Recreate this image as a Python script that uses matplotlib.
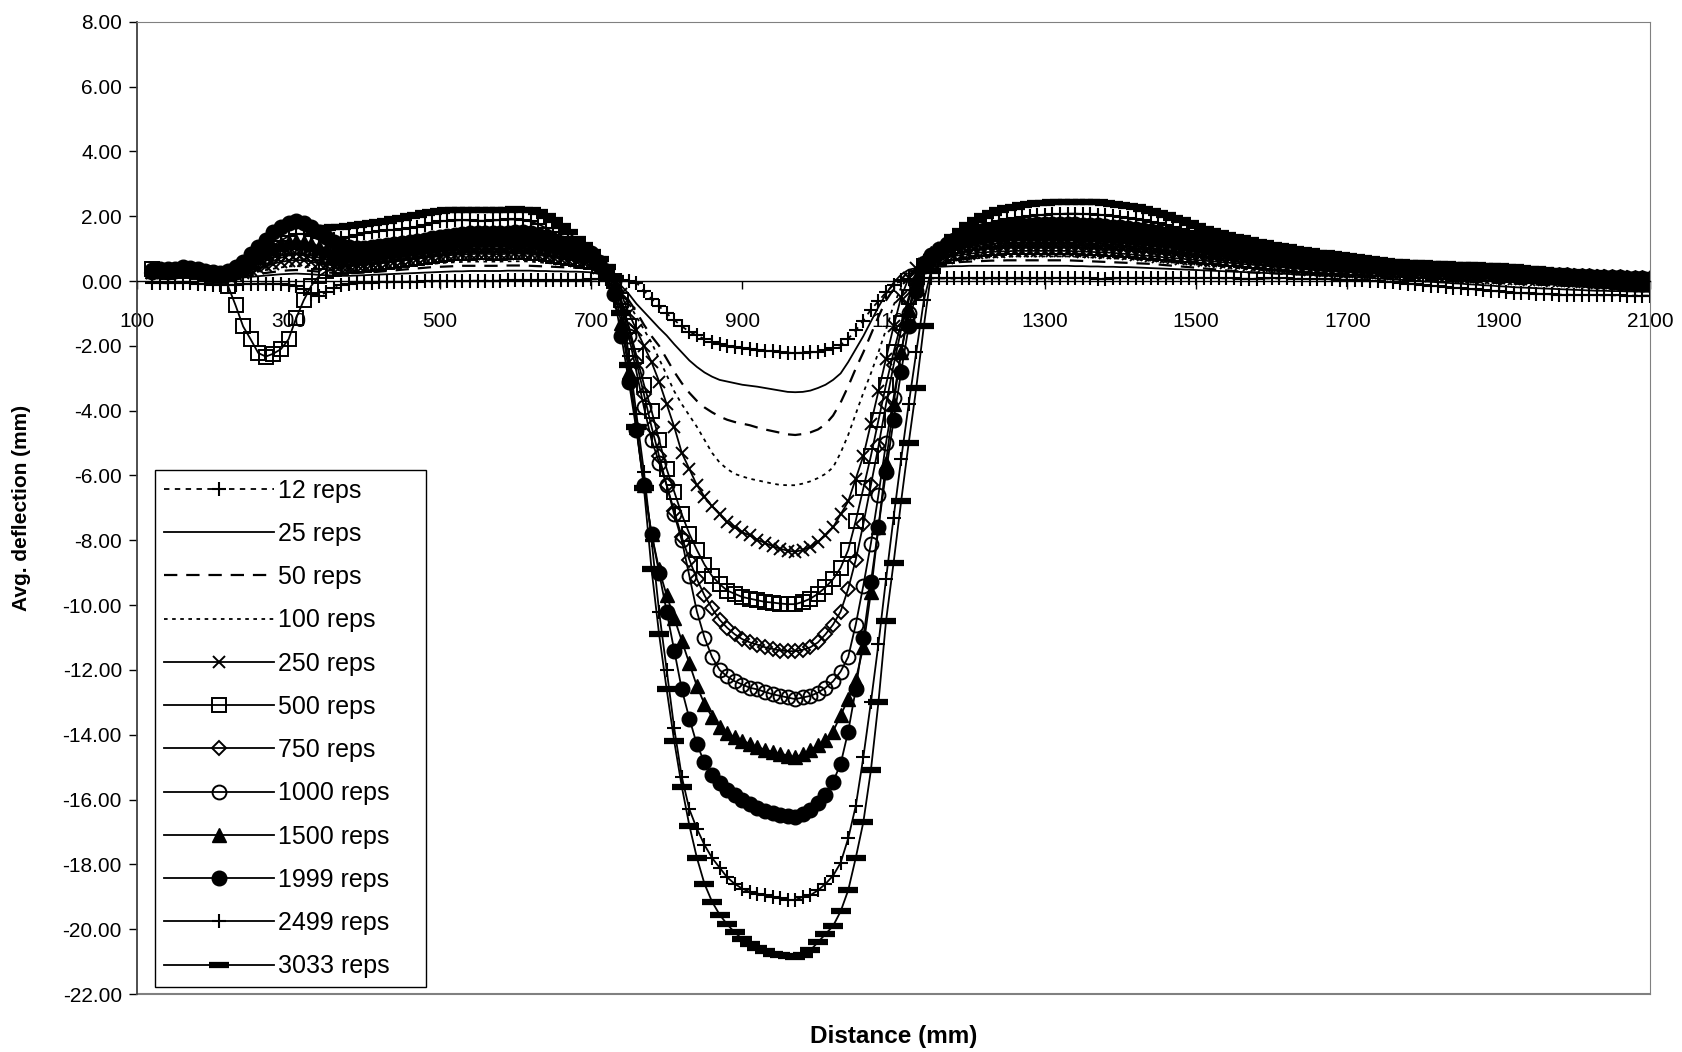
import numpy as np
import matplotlib
matplotlib.use("Agg")
import matplotlib.pyplot as plt
from matplotlib.ticker import FormatStrFormatter

plt.rcParams["font.family"] = ["Liberation Sans", "DejaVu Sans"]

nan = np.nan

# distance along the section (mm), one reading every 10 mm from 120 to 2100
distance = np.arange(120, 2101, 10)

# average deflection (mm), one row = 10 readings (120-210, 220-310, ...)
reps_12 = [
    -0.05, -0.06, -0.07, -0.06, -0.05, -0.06, -0.08, -0.1, -0.11, -0.12,
    -0.12, -0.11, -0.1, -0.09, -0.08, -0.08, -0.09, -0.1, -0.12, -0.16,
    -0.25, -0.4, -0.45, -0.35, -0.22, -0.12, -0.08, -0.06, -0.05, -0.05,
    -0.04, -0.04, -0.03, -0.03, -0.02, -0.02, -0.01, -0.01, 0.0, 0.0,
    0.0, 0.0, 0.01, 0.01, 0.01, 0.01, 0.01, 0.02, 0.02, 0.02,
    0.02, 0.02, 0.02, 0.03, 0.03, 0.03, 0.04, 0.04, 0.05, 0.05,
    0.05, 0.05, 0.03, 0.0, -0.05, -0.3, -0.55, -0.78, -1.0, -1.2,
    -1.4, -1.56, -1.68, -1.79, -1.87, -1.95, -2.0, -2.05, -2.08, -2.1,
    -2.12, -2.15, -2.17, -2.19, -2.21, -2.22, -2.21, -2.2, -2.18, -2.14,
    -2.08, -1.97, -1.78, -1.52, -1.22, -0.88, -0.62, -0.35, -0.12, 0.02,
    0.05, 0.07, 0.08, 0.08, 0.08, 0.08, 0.08, 0.08, 0.08, 0.08,
    0.08, 0.08, 0.08, 0.08, 0.08, 0.08, 0.08, 0.08, 0.08, 0.08,
    0.09, 0.1, 0.1, 0.09, 0.08, 0.07, 0.07, 0.08, 0.09, 0.1,
    0.1, 0.1, 0.09, 0.08, 0.08, 0.08, 0.09, 0.1, 0.1, 0.1,
    0.1, 0.09, 0.08, 0.08, 0.07, 0.07, 0.07, 0.08, 0.08, 0.08,
    0.08, 0.07, 0.07, 0.06, 0.06, 0.05, 0.05, 0.04, 0.04, 0.03,
    0.02, 0.01, 0.0, -0.02, -0.04, -0.06, -0.08, -0.1, -0.12, -0.14,
    -0.16, -0.18, -0.2, -0.22, -0.24, -0.26, -0.28, -0.3, -0.32, -0.34,
    -0.36, -0.37, -0.38, -0.39, -0.4, -0.41, -0.42, -0.42, -0.43, -0.43,
    -0.43, -0.44, -0.44, -0.44, -0.44, -0.45, -0.45, -0.45, -0.45,
]

reps_25 = [
    0.18, 0.21, 0.19, 0.21, 0.24, 0.23, 0.2, 0.16, 0.12, 0.09,
    0.08, 0.09, 0.11, 0.13, 0.15, 0.17, 0.19, 0.21, 0.22, 0.23,
    0.22, 0.21, 0.19, 0.18, 0.17, 0.16, 0.16, 0.17, 0.18, 0.19,
    0.2, 0.21, 0.22, 0.23, 0.24, 0.25, 0.26, 0.27, 0.28, 0.29,
    0.3, 0.3, 0.31, 0.31, 0.31, 0.31, 0.31, 0.32, 0.32, 0.32,
    0.32, 0.31, 0.31, 0.3, 0.3, 0.29, 0.29, 0.28, 0.27, 0.22,
    0.15, 0.05, -0.15, -0.4, -0.7, -0.95, -1.2, -1.45, -1.68, -1.95,
    -2.2, -2.45, -2.65, -2.82, -2.95, -3.05, -3.1, -3.15, -3.2, -3.23,
    -3.26, -3.3, -3.34, -3.38, -3.42, -3.43, -3.42, -3.38, -3.3, -3.2,
    -3.05, -2.85, -2.5, -2.1, -1.7, -1.25, -0.8, -0.4, -0.05, 0.2,
    0.35, 0.4, 0.42, 0.43, 0.44, 0.45, 0.46, 0.46, 0.47, 0.47,
    0.47, 0.47, 0.47, 0.47, 0.47, 0.47, 0.47, 0.47, 0.47, 0.47,
    0.47, 0.47, 0.46, 0.46, 0.45, 0.45, 0.44, 0.44, 0.43, 0.43,
    0.42, 0.41, 0.4, 0.39, 0.38, 0.37, 0.36, 0.35, 0.34, 0.33,
    0.32, 0.31, 0.3, 0.29, 0.28, 0.27, 0.26, 0.25, 0.24, 0.23,
    0.22, 0.21, 0.2, 0.19, 0.18, 0.17, 0.16, 0.15, 0.14, 0.13,
    0.11, 0.1, 0.08, 0.07, 0.05, 0.04, 0.02, 0.01, -0.01, -0.02,
    -0.04, -0.05, -0.07, -0.08, -0.1, -0.11, -0.13, -0.14, -0.16, -0.17,
    -0.19, -0.2, -0.21, -0.22, -0.23, -0.24, -0.25, -0.26, -0.27, -0.28,
    -0.29, -0.3, -0.3, -0.31, -0.31, -0.32, -0.32, -0.33, -0.33,
]

reps_50 = [
    0.2, 0.23, 0.21, 0.23, 0.26, 0.25, 0.22, 0.18, 0.14, 0.11,
    0.11, 0.12, 0.15, 0.18, 0.22, 0.25, 0.28, 0.31, 0.33, 0.34,
    0.33, 0.31, 0.29, 0.27, 0.25, 0.24, 0.24, 0.25, 0.26, 0.27,
    0.29, 0.31, 0.33, 0.35, 0.37, 0.39, 0.41, 0.43, 0.44, 0.45,
    0.46, 0.47, 0.47, 0.47, 0.47, 0.47, 0.47, 0.48, 0.48, 0.48,
    0.47, 0.46, 0.45, 0.44, 0.43, 0.42, 0.41, 0.4, 0.4, 0.3,
    0.15, 0.0, -0.25, -0.6, -0.95, -1.35, -1.7, -2.0, -2.4, -2.8,
    -3.15, -3.45, -3.7, -3.9, -4.05, -4.18, -4.28, -4.35, -4.4, -4.45,
    -4.52, -4.58, -4.63, -4.68, -4.73, -4.75, -4.72, -4.67, -4.58, -4.42,
    -4.15, -3.75, -3.25, -2.7, -2.2, -1.65, -1.1, -0.6, -0.25, 0.05,
    0.3, 0.42, 0.46, 0.5, 0.53, 0.55, 0.57, 0.59, 0.6, 0.61,
    0.62, 0.63, 0.63, 0.64, 0.64, 0.64, 0.64, 0.64, 0.64, 0.64,
    0.64, 0.64, 0.63, 0.62, 0.61, 0.6, 0.59, 0.58, 0.57, 0.56,
    0.55, 0.54, 0.53, 0.51, 0.49, 0.47, 0.45, 0.43, 0.41, 0.39,
    0.37, 0.35, 0.33, 0.31, 0.29, 0.27, 0.26, 0.25, 0.24, 0.23,
    0.22, 0.21, 0.2, 0.19, 0.18, 0.17, 0.16, 0.15, 0.14, 0.13,
    0.12, 0.11, 0.1, 0.09, 0.08, 0.07, 0.06, 0.05, 0.04, 0.03,
    0.02, 0.01, 0.0, -0.01, -0.02, -0.03, -0.04, -0.05, -0.06, -0.07,
    -0.08, -0.09, -0.1, -0.11, -0.12, -0.13, -0.14, -0.15, -0.16, -0.17,
    -0.18, -0.19, -0.2, -0.21, -0.22, -0.23, -0.24, -0.25, -0.26,
]

reps_100 = [
    0.22, 0.25, 0.23, 0.25, 0.28, 0.27, 0.24, 0.2, 0.16, 0.13,
    0.13, 0.15, 0.19, 0.24, 0.29, 0.34, 0.38, 0.42, 0.45, 0.46,
    0.45, 0.42, 0.39, 0.36, 0.34, 0.33, 0.33, 0.34, 0.35, 0.37,
    0.39, 0.41, 0.43, 0.45, 0.47, 0.49, 0.51, 0.53, 0.55, 0.57,
    0.58, 0.59, 0.6, 0.6, 0.6, 0.6, 0.6, 0.61, 0.61, 0.61,
    0.6, 0.58, 0.56, 0.54, 0.52, 0.5, 0.48, 0.46, 0.44, 0.35,
    0.2, 0.0, -0.3, -0.7, -1.1, -1.5, -1.9, -2.4, -2.9, -3.4,
    -3.8, -4.15, -4.5, -4.9, -5.3, -5.6, -5.8, -5.95, -6.03, -6.1,
    -6.15, -6.2, -6.25, -6.29, -6.3, -6.3, -6.25, -6.18, -6.08, -5.95,
    -5.75, -5.3, -4.75, -4.1, -3.45, -2.85, -2.2, -1.5, -0.75, -0.2,
    0.2, 0.38, 0.46, 0.52, 0.56, 0.6, 0.63, 0.66, 0.68, 0.7,
    0.72, 0.73, 0.74, 0.75, 0.76, 0.76, 0.76, 0.76, 0.76, 0.76,
    0.76, 0.76, 0.75, 0.74, 0.73, 0.72, 0.71, 0.7, 0.69, 0.68,
    0.67, 0.65, 0.63, 0.61, 0.59, 0.57, 0.55, 0.53, 0.51, 0.49,
    0.47, 0.45, 0.43, 0.41, 0.39, 0.37, 0.35, 0.33, 0.31, 0.29,
    0.28, 0.27, 0.26, 0.25, 0.24, 0.23, 0.22, 0.21, 0.2, 0.19,
    0.18, 0.17, 0.16, 0.15, 0.14, 0.13, 0.12, 0.11, 0.1, 0.09,
    0.08, 0.07, 0.06, 0.05, 0.04, 0.03, 0.02, 0.01, 0.0, -0.01,
    -0.02, -0.03, -0.04, -0.05, -0.06, -0.07, -0.08, -0.09, -0.1, -0.11,
    -0.12, -0.13, -0.14, -0.15, -0.16, -0.17, -0.18, -0.19, -0.2,
]

reps_250 = [
    0.24, 0.27, 0.25, 0.27, 0.3, 0.29, 0.26, 0.22, 0.18, 0.15,
    0.16, 0.2, 0.26, 0.33, 0.4, 0.47, 0.54, 0.59, 0.63, 0.65,
    0.64, 0.6, 0.55, 0.51, 0.48, 0.47, 0.47, 0.48, 0.5, 0.52,
    0.54, 0.57, 0.6, 0.63, 0.66, 0.69, 0.72, 0.75, 0.77, 0.79,
    0.81, 0.82, 0.83, 0.84, 0.84, 0.83, 0.83, 0.84, 0.85, 0.85,
    0.83, 0.8, 0.77, 0.73, 0.69, 0.66, 0.63, 0.6, 0.57, 0.4,
    0.2, 0.0, -0.4, -1.0, -1.5, -2.0, -2.5, -3.1, -3.8, -4.5,
    -5.3, -5.8, -6.3, -6.65, -6.95, -7.2, -7.45, -7.6, -7.75, -7.85,
    -7.98, -8.08, -8.18, -8.26, -8.32, -8.35, -8.3, -8.2, -8.05, -7.85,
    -7.6, -7.2, -6.8, -6.1, -5.4, -4.4, -3.4, -2.4, -1.4, -0.5,
    0.1, 0.4, 0.52, 0.6, 0.66, 0.72, 0.77, 0.81, 0.84, 0.87,
    0.89, 0.9, 0.91, 0.92, 0.93, 0.93, 0.93, 0.93, 0.93, 0.93,
    0.93, 0.93, 0.92, 0.91, 0.9, 0.89, 0.88, 0.87, 0.85, 0.83,
    0.81, 0.79, 0.77, 0.75, 0.73, 0.71, 0.69, 0.67, 0.65, 0.63,
    0.61, 0.59, 0.57, 0.55, 0.53, 0.51, 0.49, 0.47, 0.45, 0.43,
    0.41, 0.39, 0.37, 0.35, 0.33, 0.31, 0.3, 0.29, 0.28, 0.27,
    0.26, 0.25, 0.24, 0.23, 0.22, 0.21, 0.2, 0.19, 0.18, 0.17,
    0.16, 0.15, 0.14, 0.13, 0.12, 0.11, 0.1, 0.09, 0.08, 0.07,
    0.06, 0.05, 0.04, 0.03, 0.02, 0.01, 0.0, -0.01, -0.02, -0.03,
    -0.04, -0.05, -0.06, -0.07, -0.08, -0.09, -0.1, -0.11, -0.12,
]

reps_500 = [
    0.38, 0.3, 0.28, 0.3, 0.33, 0.31, 0.28, 0.24, 0.2, 0.17,
    -0.15, -0.75, -1.4, -1.8, -2.22, -2.33, -2.24, -2.1, -1.8, -1.15,
    -0.6, -0.15, 0.15, 0.3, 0.38, 0.42, 0.45, 0.48, 0.5, 0.53,
    0.56, 0.59, 0.62, 0.65, 0.68, 0.71, 0.74, 0.77, 0.8, 0.83,
    0.85, 0.87, 0.88, 0.89, 0.89, 0.88, 0.88, 0.89, 0.9, 0.9,
    0.88, 0.85, 0.82, 0.78, 0.74, 0.7, 0.67, 0.63, 0.6, 0.45,
    0.25, 0.0, -0.6, -1.4, -2.3, -3.2, -4.0, -4.9, -5.8, -6.5,
    -7.2, -7.8, -8.3, -8.75, -9.1, -9.35, -9.55, -9.65, -9.75, -9.8,
    -9.85, -9.9, -9.92, -9.95, -9.97, -9.97, -9.9, -9.8, -9.65, -9.45,
    -9.2, -8.85, -8.3, -7.4, -6.4, -5.4, -4.3, -3.2, -2.2, -1.3,
    -0.5, 0.1, 0.45, 0.6, 0.7, 0.78, 0.85, 0.9, 0.94, 0.98,
    1.0, 1.02, 1.03, 1.04, 1.05, 1.05, 1.05, 1.05, 1.05, 1.05,
    1.05, 1.05, 1.04, 1.03, 1.02, 1.01, 1.0, 0.99, 0.97, 0.95,
    0.93, 0.91, 0.89, 0.87, 0.85, 0.83, 0.81, 0.79, 0.77, 0.75,
    0.73, 0.71, 0.69, 0.67, 0.65, 0.63, 0.61, 0.59, 0.57, 0.55,
    0.53, 0.51, 0.49, 0.47, 0.45, 0.44, 0.43, 0.42, 0.41, 0.4,
    0.39, 0.38, 0.37, 0.36, 0.35, 0.34, 0.33, 0.32, 0.31, 0.3,
    0.29, 0.28, 0.27, 0.26, 0.25, 0.24, 0.23, 0.22, 0.21, 0.2,
    0.19, 0.18, 0.17, 0.16, 0.15, 0.14, 0.13, 0.12, 0.11, 0.1,
    0.09, 0.08, 0.07, 0.06, 0.05, 0.04, 0.03, 0.02, 0.01,
]

reps_750 = [
    0.26, 0.29, 0.27, 0.29, 0.33, 0.32, 0.29, 0.25, 0.21, 0.18,
    0.2, 0.25, 0.33, 0.43, 0.53, 0.63, 0.72, 0.79, 0.84, 0.86,
    0.84, 0.79, 0.72, 0.66, 0.62, 0.6, 0.6, 0.61, 0.63, 0.66,
    0.69, 0.72, 0.75, 0.78, 0.81, 0.84, 0.87, 0.9, 0.93, 0.96,
    0.98, 1.0, 1.01, 1.02, 1.02, 1.01, 1.01, 1.02, 1.03, 1.03,
    1.01, 0.98, 0.94, 0.89, 0.84, 0.79, 0.75, 0.71, 0.66, 0.48,
    0.28, 0.0, -0.6, -1.5, -2.5, -3.5, -4.5, -5.4, -6.3, -7.1,
    -7.9, -8.6, -9.2, -9.7, -10.1, -10.45, -10.7, -10.9, -11.05, -11.15,
    -11.22, -11.3, -11.35, -11.4, -11.42, -11.42, -11.38, -11.3, -11.15, -10.9,
    -10.6, -10.2, -9.5, -8.6, -7.5, -6.3, -5.1, -3.8, -2.6, -1.5,
    -0.6, 0.1, 0.5, 0.68, 0.8, 0.89, 0.96, 1.02, 1.06, 1.1,
    1.13, 1.15, 1.17, 1.18, 1.19, 1.2, 1.2, 1.2, 1.2, 1.2,
    1.2, 1.2, 1.19, 1.18, 1.17, 1.16, 1.15, 1.13, 1.11, 1.09,
    1.07, 1.05, 1.03, 1.0, 0.97, 0.94, 0.91, 0.88, 0.85, 0.82,
    0.8, 0.78, 0.76, 0.74, 0.72, 0.7, 0.68, 0.66, 0.64, 0.62,
    0.6, 0.58, 0.56, 0.54, 0.52, 0.5, 0.48, 0.46, 0.45, 0.44,
    0.43, 0.42, 0.41, 0.4, 0.39, 0.38, 0.37, 0.36, 0.35, 0.34,
    0.33, 0.32, 0.31, 0.3, 0.29, 0.28, 0.27, 0.26, 0.25, 0.24,
    0.23, 0.22, 0.21, 0.2, 0.19, 0.18, 0.17, 0.16, 0.15, 0.14,
    0.13, 0.12, 0.11, 0.1, 0.09, 0.08, 0.07, 0.06, 0.05,
]

reps_1000 = [
    0.28, 0.31, 0.29, 0.31, 0.35, 0.34, 0.31, 0.27, 0.23, 0.2,
    0.22, 0.28, 0.38, 0.5, 0.63, 0.76, 0.87, 0.96, 1.02, 1.04,
    1.02, 0.96, 0.88, 0.81, 0.76, 0.73, 0.72, 0.73, 0.75, 0.78,
    0.81, 0.84, 0.87, 0.9, 0.93, 0.96, 1.0, 1.03, 1.06, 1.09,
    1.11, 1.13, 1.14, 1.15, 1.15, 1.14, 1.14, 1.15, 1.16, 1.16,
    1.14, 1.1, 1.05, 0.99, 0.93, 0.87, 0.82, 0.77, 0.7, 0.5,
    0.3, 0.0, -0.7, -1.7, -2.8, -3.9, -4.9, -5.6, -6.3, -7.2,
    -8.0, -9.1, -10.2, -11.0, -11.6, -12.0, -12.2, -12.35, -12.45, -12.55,
    -12.6, -12.68, -12.75, -12.8, -12.85, -12.9, -12.85, -12.8, -12.7, -12.55,
    -12.35, -12.05, -11.6, -10.6, -9.4, -8.1, -6.6, -5.0, -3.6, -2.2,
    -1.0, -0.1, 0.55, 0.75, 0.88, 0.98, 1.06, 1.13, 1.18, 1.22,
    1.25, 1.28, 1.3, 1.32, 1.33, 1.34, 1.35, 1.35, 1.35, 1.35,
    1.35, 1.35, 1.34, 1.33, 1.32, 1.31, 1.3, 1.28, 1.26, 1.24,
    1.22, 1.19, 1.16, 1.13, 1.1, 1.07, 1.04, 1.01, 0.98, 0.95,
    0.92, 0.89, 0.86, 0.83, 0.8, 0.77, 0.74, 0.71, 0.68, 0.66,
    0.64, 0.62, 0.6, 0.58, 0.56, 0.54, 0.52, 0.5, 0.48, 0.46,
    0.45, 0.44, 0.43, 0.42, 0.41, 0.4, 0.39, 0.38, 0.37, 0.36,
    0.35, 0.34, 0.33, 0.32, 0.31, 0.3, 0.29, 0.28, 0.27, 0.26,
    0.25, 0.24, 0.23, 0.22, 0.21, 0.2, 0.19, 0.18, 0.17, 0.16,
    0.15, 0.14, 0.13, 0.12, 0.11, 0.1, 0.09, 0.08, 0.07,
]

reps_1500 = [
    0.3, 0.34, 0.32, 0.34, 0.38, 0.37, 0.34, 0.3, 0.26, 0.23,
    0.26, 0.34, 0.46, 0.6, 0.75, 0.9, 1.03, 1.13, 1.2, 1.23,
    1.22, 1.15, 1.05, 0.96, 0.9, 0.86, 0.85, 0.86, 0.88, 0.91,
    0.94, 0.97, 1.0, 1.03, 1.06, 1.1, 1.14, 1.18, 1.21, 1.24,
    1.26, 1.28, 1.29, 1.3, 1.3, 1.29, 1.29, 1.3, 1.31, 1.31,
    1.29, 1.25, 1.19, 1.12, 1.05, 0.98, 0.92, 0.86, 0.8, 0.55,
    0.3, -0.2, -1.3, -2.8, -4.5, -6.3, -7.8, -8.9, -9.7, -10.4,
    -11.1, -11.8, -12.5, -13.05, -13.45, -13.75, -13.95, -14.08, -14.18, -14.28,
    -14.38, -14.46, -14.52, -14.58, -14.64, -14.69, -14.6, -14.47, -14.32, -14.15,
    -13.9, -13.4, -12.9, -12.3, -11.3, -9.6, -7.6, -5.6, -3.8, -2.2,
    -0.9, 0.1, 0.65, 0.85, 1.0, 1.1, 1.19, 1.27, 1.33, 1.38,
    1.42, 1.45, 1.48, 1.5, 1.52, 1.53, 1.54, 1.55, 1.55, 1.55,
    1.55, 1.55, 1.54, 1.53, 1.52, 1.51, 1.5, 1.48, 1.46, 1.44,
    1.41, 1.38, 1.35, 1.32, 1.29, 1.26, 1.22, 1.18, 1.14, 1.1,
    1.06, 1.02, 0.98, 0.95, 0.92, 0.89, 0.86, 0.83, 0.8, 0.77,
    0.74, 0.71, 0.68, 0.65, 0.62, 0.6, 0.58, 0.56, 0.54, 0.52,
    0.5, 0.48, 0.46, 0.44, 0.43, 0.42, 0.41, 0.4, 0.39, 0.38,
    0.37, 0.36, 0.35, 0.34, 0.34, 0.33, 0.32, 0.31, 0.3, 0.29,
    0.28, 0.27, 0.26, 0.25, 0.24, 0.23, 0.22, 0.21, 0.2, 0.19,
    0.18, 0.17, 0.16, 0.16, 0.15, 0.14, 0.13, 0.12, 0.11,
]

reps_1999 = [
    0.35, 0.38, 0.36, 0.38, 0.42, 0.4, 0.37, 0.32, 0.28, 0.25,
    0.3, 0.42, 0.6, 0.82, 1.05, 1.28, 1.5, 1.68, 1.8, 1.86,
    1.8, 1.68, 1.5, 1.35, 1.22, 1.12, 1.05, 1.02, 1.02, 1.05,
    1.08, 1.12, 1.15, 1.18, 1.2, 1.24, 1.28, 1.32, 1.36, 1.4,
    1.43, 1.45, 1.47, 1.48, 1.48, 1.47, 1.47, 1.48, 1.5, 1.5,
    1.47, 1.42, 1.35, 1.27, 1.18, 1.1, 1.02, 0.95, 0.88, 0.6,
    0.3, -0.4, -1.7, -3.1, -4.6, -6.3, -7.8, -9.0, -10.2, -11.4,
    -12.6, -13.5, -14.3, -14.85, -15.25, -15.5, -15.7, -15.85, -16.0, -16.15,
    -16.25, -16.35, -16.42, -16.47, -16.52, -16.54, -16.45, -16.33, -16.1, -15.87,
    -15.45, -14.9, -13.9, -12.6, -11.0, -9.3, -7.6, -5.9, -4.3, -2.8,
    -1.4, -0.3, 0.45, 0.8, 1.0, 1.15, 1.28, 1.38, 1.46, 1.53,
    1.58, 1.62, 1.66, 1.69, 1.71, 1.73, 1.74, 1.75, 1.76, 1.76,
    1.76, 1.76, 1.75, 1.74, 1.73, 1.72, 1.7, 1.68, 1.66, 1.63,
    1.6, 1.57, 1.54, 1.5, 1.46, 1.42, 1.38, 1.34, 1.3, 1.26,
    1.22, 1.18, 1.14, 1.1, 1.06, 1.02, 0.98, 0.94, 0.9, 0.86,
    0.82, 0.78, 0.74, 0.7, 0.67, 0.64, 0.61, 0.58, 0.55, 0.52,
    0.5, 0.48, 0.46, 0.44, 0.42, 0.4, 0.38, 0.37, 0.36, 0.35,
    0.34, 0.33, 0.32, 0.31, 0.3, 0.29, 0.28, 0.27, 0.26, 0.25,
    0.23, 0.21, 0.19, 0.17, 0.15, 0.13, 0.11, 0.09, 0.07, 0.05,
    0.03, 0.01, -0.01, -0.03, -0.05, -0.07, -0.08, -0.09, -0.1,
]

reps_2499 = [
    0.3, 0.32, 0.3, 0.33, 0.36, 0.35, 0.32, 0.28, 0.25, 0.22,
    0.25, 0.32, 0.45, 0.6, 0.78, 0.95, 1.1, 1.25, 1.38, 1.45,
    1.45, 1.4, 1.32, 1.28, 1.3, 1.33, 1.37, 1.42, 1.47, 1.52,
    1.55, 1.57, 1.58, 1.6, 1.63, 1.68, 1.74, 1.8, 1.84, 1.86,
    1.87, 1.88, 1.87, 1.86, 1.86, 1.87, 1.88, 1.9, 1.9, 1.88,
    1.84, 1.76, 1.64, 1.5, 1.36, 1.24, 1.14, 1.04, 0.95, 0.75,
    0.5, 0.15, -0.7, -2.3, -4.1, -5.9, -8.0, -10.2, -12.0, -13.8,
    -15.3, -16.3, -16.9, -17.4, -17.8, -18.1, -18.4, -18.6, -18.75, -18.85,
    -18.9, -18.95, -19.0, -19.05, -19.1, -19.1, -19.0, -18.95, -18.8, -18.6,
    -18.35, -17.95, -17.2, -16.2, -14.7, -13.0, -11.2, -9.2, -7.3, -5.5,
    -3.8, -2.2, -0.6, 0.35, 0.75, 1.0, 1.2, 1.38, 1.52, 1.63,
    1.72, 1.8, 1.86, 1.91, 1.95, 1.98, 2.01, 2.03, 2.05, 2.06,
    2.07, 2.08, 2.08, 2.07, 2.06, 2.05, 2.03, 2.01, 1.98, 1.95,
    1.91, 1.87, 1.83, 1.78, 1.73, 1.67, 1.61, 1.55, 1.49, 1.43,
    1.37, 1.32, 1.27, 1.22, 1.17, 1.12, 1.07, 1.02, 0.97, 0.92,
    0.88, 0.84, 0.8, 0.76, 0.72, 0.68, 0.65, 0.62, 0.59, 0.56,
    0.53, 0.5, 0.48, 0.46, 0.44, 0.42, 0.4, 0.39, 0.38, 0.37,
    0.36, 0.35, 0.34, 0.33, 0.32, 0.31, 0.3, 0.29, 0.28, 0.27,
    0.26, 0.24, 0.22, 0.2, 0.18, 0.16, 0.14, 0.12, 0.1, 0.08,
    0.06, 0.04, 0.02, 0.0, -0.02, -0.04, -0.05, -0.06, -0.07,
]

reps_3033 = [
    nan, nan, nan, nan, nan, nan, nan, nan, nan, nan,
    nan, nan, nan, nan, nan, nan, nan, nan, nan, nan,
    nan, nan, 1.64, 1.65, 1.66, 1.68, 1.7, 1.73, 1.77, 1.8,
    1.83, 1.86, 1.9, 1.95, 2.0, 2.05, 2.1, 2.14, 2.17, 2.18,
    2.19, 2.2, 2.2, 2.19, 2.18, 2.18, 2.19, 2.2, 2.21, 2.2,
    2.18, 2.12, 2.02, 1.88, 1.7, 1.5, 1.3, 1.1, 0.9, 0.68,
    0.42, 0.08, -1.0, -2.6, -4.5, -6.4, -8.9, -10.9, -12.6, -14.2,
    -15.6, -16.8, -17.8, -18.6, -19.15, -19.55, -19.85, -20.1, -20.3, -20.45,
    -20.58, -20.68, -20.75, -20.8, -20.84, -20.86, -20.8, -20.65, -20.4, -20.15,
    -19.9, -19.45, -18.8, -17.8, -16.7, -15.1, -13.0, -10.5, -8.7, -6.8,
    -5.0, -3.3, -1.4, 0.3, 0.8, 1.1, 1.35, 1.55, 1.73, 1.88,
    2.0, 2.1, 2.18, 2.25, 2.3, 2.34, 2.37, 2.4, 2.42, 2.43,
    2.44, 2.45, 2.45, 2.45, 2.44, 2.43, 2.41, 2.39, 2.36, 2.32,
    2.27, 2.22, 2.16, 2.1, 2.03, 1.95, 1.87, 1.78, 1.7, 1.62,
    1.55, 1.48, 1.42, 1.37, 1.32, 1.27, 1.22, 1.17, 1.12, 1.07,
    1.04, 1.0, 0.96, 0.92, 0.88, 0.85, 0.82, 0.79, 0.76, 0.73,
    0.7, 0.67, 0.64, 0.62, 0.6, 0.58, 0.57, 0.56, 0.55, 0.54,
    0.53, 0.52, 0.51, 0.5, 0.49, 0.48, 0.47, 0.46, 0.45, 0.44,
    0.42, 0.4, 0.38, 0.36, 0.34, 0.32, 0.3, 0.28, 0.27, 0.26,
    0.25, 0.24, 0.23, 0.22, 0.21, 0.2, 0.2, 0.19, 0.18,
]

labels = ["12 reps", "25 reps", "50 reps", "100 reps", "250 reps", "500 reps",
          "750 reps", "1000 reps", "1500 reps", "1999 reps", "2499 reps", "3033 reps"]
series = [reps_12, reps_25, reps_50, reps_100, reps_250, reps_500,
          reps_750, reps_1000, reps_1500, reps_1999, reps_2499, reps_3033]

# line / marker look of each series (Excel black & white style)
styles = [
    dict(ls=(0, (3, 3)), marker="+", ms=10, mew=1.5),
    dict(ls="-", marker=None),
    dict(ls=(0, (6, 4)), lw=1.6, marker=None),
    dict(ls=(0, (2, 2.5)), marker=None),
    dict(ls="-", marker="x", ms=9, mew=1.4),
    dict(ls="-", marker="s", ms=9.5, mfc="none", mew=1.4),
    dict(ls="-", marker="D", ms=7.5, mfc="none", mew=1.4),
    dict(ls="-", marker="o", ms=10, mfc="none", mew=1.4),
    dict(ls="-", marker="^", ms=10),
    dict(ls="-", marker="o", ms=10.5),
    dict(ls="-", marker="+", ms=10, mew=1.5),
    dict(ls="-", marker="_", ms=14, mew=4.5),
]

fig = plt.figure(figsize=(16.82, 10.52), dpi=100)
ax = fig.add_axes([0.0816, 0.0551, 0.8993, 0.9242])

for lab, vals, st in zip(labels, series, styles):
    st = dict(st)
    ax.plot(distance, vals, color="black", lw=st.pop("lw", 1.3),
            mec="black", label=lab, **st)

ax.set_xlim(100, 2100)
ax.set_ylim(-22, 8)
ax.set_xticks(np.arange(100, 2101, 200))
ax.set_yticks(np.arange(-22, 8.1, 2))
ax.yaxis.set_major_formatter(FormatStrFormatter("%.2f"))
ax.set_axisbelow(True)

# x axis crosses at zero, plot area keeps a grey frame
ax.spines["bottom"].set_position(("data", 0))
ax.spines["bottom"].set_color("black")
ax.spines["bottom"].set_linewidth(1.0)
ax.spines["left"].set_color("#404040")
ax.spines["left"].set_linewidth(1.3)
ax.spines["top"].set_color("#808080")
ax.spines["right"].set_color("#808080")
ax.plot([0, 1], [0, 0], transform=ax.transAxes, color="#808080", lw=1.5, clip_on=False)

ax.tick_params(axis="x", direction="out", length=6, width=1, pad=16, labelsize=15)
ax.tick_params(axis="y", direction="out", length=6, width=1, pad=5, labelsize=15)

fig.text(0.5313, 0.0143, "Distance (mm)", ha="center", va="center",
         fontsize=17.5, fontweight="bold")
fig.text(0.0128, 0.5172, "Avg. deflection (mm)", ha="center", va="center",
         rotation=90, fontsize=15, fontweight="bold")

leg = ax.legend(loc="lower left", bbox_to_anchor=(0.012, 0.0072, 0.179, 0.533),
                mode="expand", fontsize=18, frameon=True, fancybox=False,
                edgecolor="black", framealpha=1, borderpad=0.35,
                labelspacing=0.77, handlelength=4.4, handletextpad=0.15,
                borderaxespad=0)
leg.get_frame().set_linewidth(1.0)

fig.savefig("out.png", dpi=100)
